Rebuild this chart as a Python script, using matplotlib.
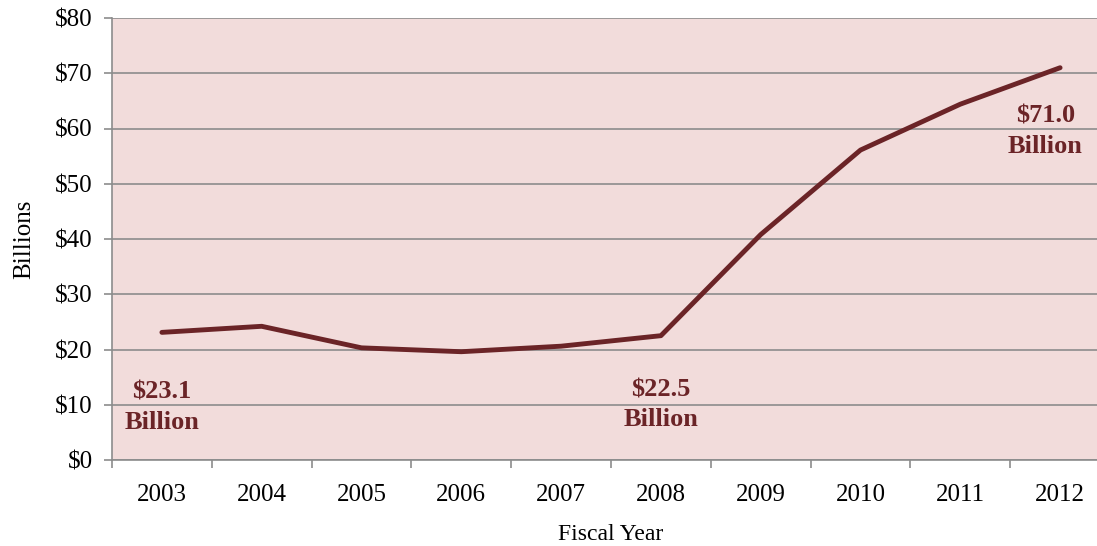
import matplotlib.pyplot as plt
import numpy as np

years = ["2003", "2004", "2005", "2006", "2007", "2008", "2009", "2010", "2011", "2012"]
spending = [23.1, 24.2, 20.3, 19.6, 20.6, 22.5, 40.8, 56.1, 64.4, 71.0]
y_ticks = [0, 10, 20, 30, 40, 50, 60, 70, 80]

line_color = "#6B2427"
bg_color = "#F2DCDB"
grid_color = "#8C8C8C"

plt.rcParams["font.family"] = ["Liberation Serif", "DejaVu Serif"]

fig = plt.figure(figsize=(10.97, 5.46), dpi=100)
ax = fig.add_axes([112 / 1097, 86 / 546, 998 / 1097, 442 / 546])
ax.set_facecolor(bg_color)

x = np.arange(len(years))
ax.plot(x, spending, color=line_color, linewidth=3.5, solid_capstyle="round", zorder=3)

ax.set_xlim(-0.5, len(years) - 0.5)
ax.set_ylim(0, 80)
ax.set_yticks(y_ticks)
ax.set_yticklabels([f"${v}" for v in y_ticks], fontsize=18)
ax.set_xticks(x)
ax.set_xticklabels(years, fontsize=18)
ax.set_xticks(np.arange(-0.5, len(years)), minor=True)
ax.tick_params(axis="x", which="major", length=0, pad=17)
ax.tick_params(axis="x", which="minor", length=6, color=grid_color, width=1.2)
ax.tick_params(axis="y", length=6, color=grid_color, width=1.2, pad=8)

ax.grid(axis="y", color=grid_color, linewidth=1.2)
ax.set_axisbelow(True)
for side in ["top", "right"]:
    ax.spines[side].set_visible(False)
for side in ["left", "bottom"]:
    ax.spines[side].set_color(grid_color)
    ax.spines[side].set_linewidth(1.2)

ax.set_ylabel("Billions", fontsize=18, labelpad=14)
ax.set_xlabel("Fiscal Year", fontsize=17, labelpad=13)

notes = [(0, 9.5, "$23.1\nBillion"), (5, 10.0, "$22.5\nBillion"), (8.85, 59.5, "$71.0\nBillion")]
for xi, yi, txt in notes:
    ax.text(xi, yi, txt, ha="center", va="center", fontsize=19, fontweight="bold",
            color=line_color, linespacing=1.4)

fig.savefig("out.png", dpi=100)
